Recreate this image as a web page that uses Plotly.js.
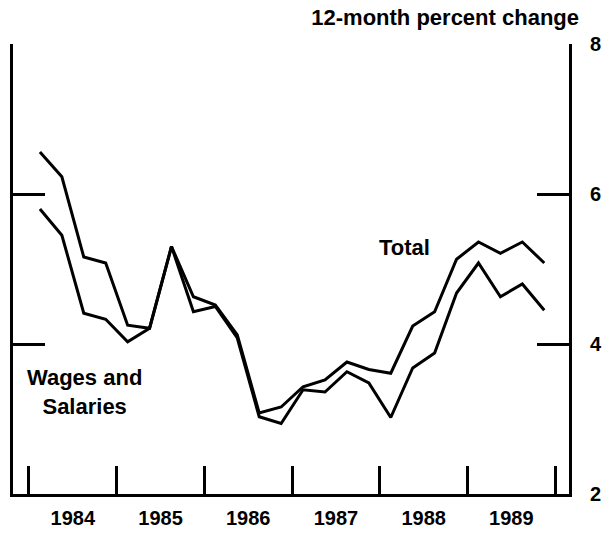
<!DOCTYPE html>
<html>
<head>
<meta charset="utf-8">
<script src="https://cdn.plot.ly/plotly-3.0.1.min.js"></script>
<style>html,body{margin:0;padding:0;background:#fff;}#chart{width:613px;height:533px;}</style>
</head>
<body>
<div id="chart"></div>
<script>
// Quarterly observations, 1984:Q1 - 1989:Q4
var years = [1984, 1985, 1986, 1987, 1988, 1989];
var quarters = ["Q1", "Q2", "Q3", "Q4"];
var yearLabels = ["1984", "1985", "1986", "1987", "1988", "1989"];
var total = [6.56, 6.23, 5.16, 5.08,
             4.25, 4.21, 5.30, 4.63,
             4.52, 4.12, 3.08, 3.16,
             3.43, 3.52, 3.76, 3.66,
             3.61, 4.24, 4.43, 5.13,
             5.36, 5.21, 5.36, 5.08];
var wages = [5.80, 5.45, 4.41, 4.33,
             4.03, 4.21, 5.30, 4.43,
             4.50, 4.08, 3.03, 2.94,
             3.39, 3.36, 3.63, 3.48,
             3.02, 3.68, 3.88, 4.68,
             5.08, 4.63, 4.80, 4.45];
var yTicks = [2, 4, 6, 8];

// x position of each quarter = mid-point of the quarter in fractional years
var xq = [];
years.forEach(function (y) {
  quarters.forEach(function (q, i) { xq.push(y + (i + 0.5) / 4); });
});
var boundaries = years.concat([years[years.length - 1] + 1]);
var mids = years.map(function (y) { return y + 0.5; });

var lineStyle = {color: "#000", width: 3};
var traces = [
  {x: xq, y: total, type: "scatter", mode: "lines", name: "Total", line: lineStyle},
  {x: xq, y: wages, type: "scatter", mode: "lines", name: "Wages and Salaries", line: lineStyle}
];

var tickFont = {family: "Liberation Sans, Arial, sans-serif", size: 20, color: "#000", weight: "bold"};
var labelFont = {family: "Liberation Sans, Arial, sans-serif", size: 22, color: "#000", weight: "bold"};
var layout = {
  width: 613, height: 533,
  margin: {l: 13, r: 44, t: 44, b: 39},
  paper_bgcolor: "#fff", plot_bgcolor: "#fff",
  showlegend: false,
  title: {
    text: "12-month percent change",
    font: {family: "Liberation Sans, Arial, sans-serif", size: 22, color: "#000", weight: "bold"},
    xref: "container", yref: "container",
    x: 579 / 613, xanchor: "right",
    y: 1 - 17 / 533, yanchor: "middle"
  },
  xaxis: {
    range: [1983.818, 1990.157],
    tickmode: "array", tickvals: mids, ticktext: yearLabels,
    ticks: "", ticklabelstandoff: 4,
    tickfont: tickFont,
    minor: {tickmode: "array", tickvals: boundaries, ticks: "inside", ticklen: 28, tickwidth: 3, tickcolor: "#000", showgrid: false},
    showline: true, linecolor: "#000", linewidth: 3,
    showgrid: false, zeroline: false, fixedrange: true
  },
  yaxis: {
    range: [2, 8], side: "right",
    tickmode: "array", tickvals: yTicks, ticktext: yTicks.map(String),
    ticks: "inside", ticklen: 32, tickwidth: 3, tickcolor: "#000",
    ticklabelstandoff: 14,
    tickfont: tickFont,
    showline: true, linecolor: "#000", linewidth: 3, mirror: "ticks",
    showgrid: false, zeroline: false, fixedrange: true
  },
  annotations: [
    {text: "Total", xref: "paper", yref: "paper",
     x: (404 - 13) / 556, y: (494 - 247) / 450, xanchor: "center", yanchor: "middle",
     showarrow: false, font: labelFont},
    {text: "Wages and<br>Salaries", xref: "paper", yref: "paper",
     x: (84 - 13) / 556, y: (494 - 392) / 450, xanchor: "center", yanchor: "middle", align: "center",
     showarrow: false, font: labelFont}
  ]
};

Plotly.newPlot("chart", traces, layout, {displayModeBar: false, staticPlot: true});
</script>
</body>
</html>
